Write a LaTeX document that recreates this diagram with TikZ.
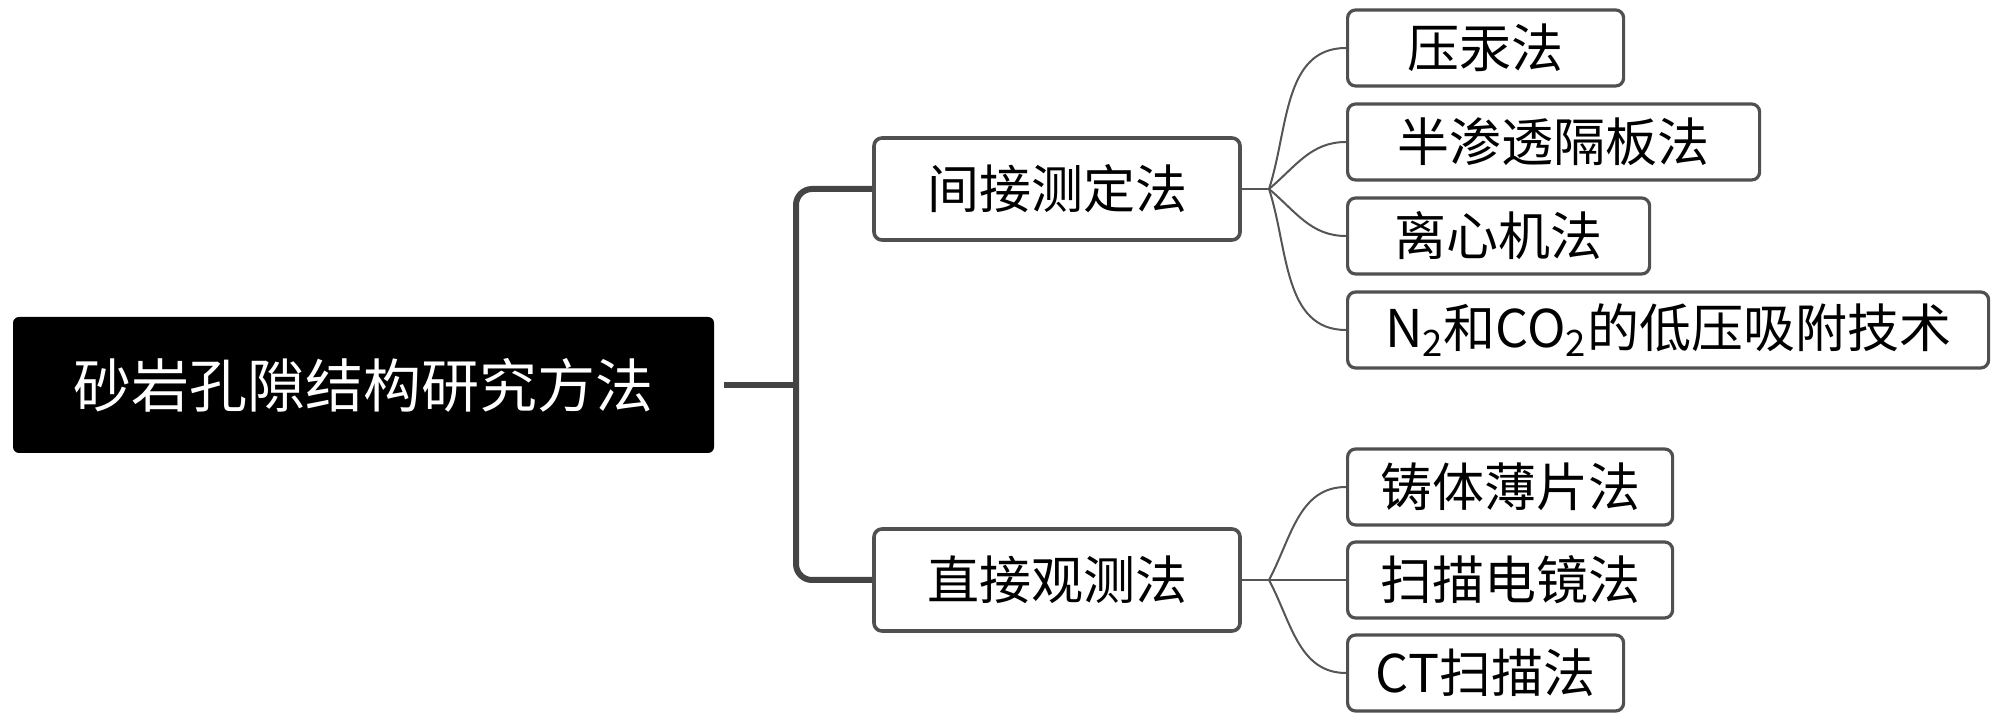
\documentclass[tikz,border=0pt]{standalone}
\usepackage{fontspec}
\setmainfont{Noto Sans CJK SC}
\definecolor{boxgray}{HTML}{505050}
\definecolor{trunkgray}{HTML}{444444}
\definecolor{twiggray}{HTML}{555555}
\begin{document}
\begin{tikzpicture}[x=0.5pt,y=0.5pt,
  box/.style={draw=boxgray,line width=1.6pt,rounded corners=4pt,fill=white,inner sep=0pt,
    minimum height=38pt,font=\fontsize{26pt}{30pt}\selectfont},
  mid/.style={box,line width=1.8pt,minimum width=183pt,minimum height=51pt},
  leaf/.style={box,anchor=west},
  trunk/.style={line width=3pt,draw=trunkgray,rounded corners=8pt},
  twig/.style={line width=1pt,draw=twiggray}]
\useasboundingbox (0,0) rectangle (2000,722);

\node[fill=black,text=white,rounded corners=3pt,inner sep=0pt,minimum width=350.5pt,
  minimum height=68pt,font=\fontsize{29pt}{34pt}\selectfont] (R) at (363.5,337) {砂岩孔隙结构研究方法};

\node[mid] (I) at (1057,533) {间接测定法};
\node[mid] (D) at (1057,142) {直接观测法};

\node[leaf,minimum width=138pt] (I1) at (1346,674) {压汞法};
\node[leaf,minimum width=206pt] (I2) at (1346,580) {半渗透隔板法};
\node[leaf,minimum width=151pt] (I3) at (1346,486) {离心机法};
\node[leaf,minimum width=320.5pt] (I4) at (1346,392) {N\textsubscript{2}和CO\textsubscript{2}的低压吸附技术};

\node[leaf,minimum width=162.5pt] (D1) at (1346,235) {铸体薄片法};
\node[leaf,minimum width=162.5pt] (D2) at (1346,142) {扫描电镜法};
\node[leaf,minimum width=138pt] (D3) at (1346,49) {CT扫描法};

\coordinate (T) at (796,533);
\coordinate (B) at (796,142);
\coordinate (FI) at (1269,533);
\coordinate (FD) at (1269,142);

\draw[trunk] (I.west) -- (T) -- (B) -- (D.west);
\draw[trunk] ([xshift=5pt]R.east) -- (R.east -| T);

\draw[twig] (I.east) -- (FI);
\draw[twig] (FI) to[out=72,in=180] (I1.west);
\draw[twig] (FI) to[out=40,in=180] (I2.west);
\draw[twig] (FI) to[out=-40,in=180] (I3.west);
\draw[twig] (FI) to[out=-72,in=180] (I4.west);

\draw[twig] (D.east) -- (FD);
\draw[twig] (FD) to[out=62,in=180] (D1.west);
\draw[twig] (FD) -- (D2.west);
\draw[twig] (FD) to[out=-62,in=180] (D3.west);
\end{tikzpicture}
\end{document}
